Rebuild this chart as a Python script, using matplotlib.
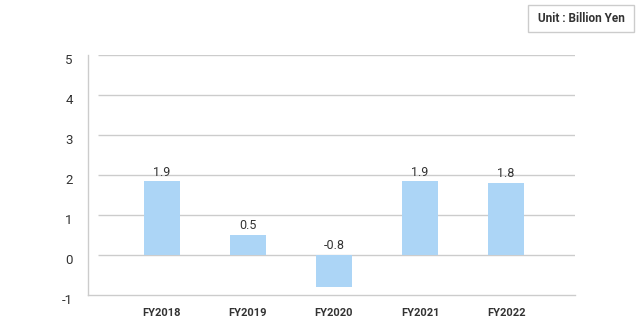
import matplotlib.pyplot as plt
import matplotlib.transforms as mtransforms
from matplotlib.patches import Rectangle

years = ['FY2018', 'FY2019', 'FY2020', 'FY2021', 'FY2022']
values = [1.84, 0.5, -0.8, 1.84, 1.8]
labels = ['1.9', '0.5', '-0.8', '1.9', '1.8']
yticks = [-1, 0, 1, 2, 3, 4, 5]

plt.rcParams['font.family'] = ['Roboto', 'DejaVu Sans']

fig = plt.figure(figsize=(6.37, 3.30), dpi=100)
ax = fig.add_axes([88/637, 1-295/330, 487/637, 240/330])

x = list(range(len(years)))
ax.bar(x, values, width=36/86, color='#acd5f6', zorder=2)

# gridlines start a little right of the left spine
for t in yticks[1:]:
    ax.hlines(t, -0.744, 4.802, color='#cccccc', lw=1, zorder=1)

for i, (v, lab) in enumerate(zip(values, labels)):
    ax.annotate(lab, (i, max(v, 0)), xytext=(0, 2), textcoords='offset points',
                ha='center', va='bottom', fontsize=9, color='#333333')

ax.set_xlim(-0.860, 4.802)
ax.set_ylim(-1, 5)
ax.set_xticks(x)
ax.set_xticklabels(years, fontsize=8, fontweight='bold', color='#333333')
ax.set_yticks(yticks)
ax.set_yticklabels([str(t) for t in yticks], fontsize=9.5, color='#333333')
ax.tick_params(length=0)
ax.tick_params(axis='x', pad=9)
ax.tick_params(axis='y', pad=11)
shift = mtransforms.ScaledTranslation(0, -4/100, fig.dpi_scale_trans)
for lbl in ax.get_yticklabels():
    lbl.set_transform(lbl.get_transform() + shift)
for s in ['top', 'right']:
    ax.spines[s].set_visible(False)
for s in ['left', 'bottom']:
    ax.spines[s].set_color('#cccccc')
    ax.spines[s].set_linewidth(1)

# unit box
fig.patches.append(Rectangle((528/637, 1-32/330), 106/637, 27/330, transform=fig.transFigure,
                             facecolor='white', edgecolor='#cccccc', lw=1))
fig.text(581/637, 1-18.5/330, 'Unit : Billion Yen', ha='center', va='center',
         fontsize=8.5, fontweight='bold', color='#333333')

fig.savefig('out.png', dpi=100)
